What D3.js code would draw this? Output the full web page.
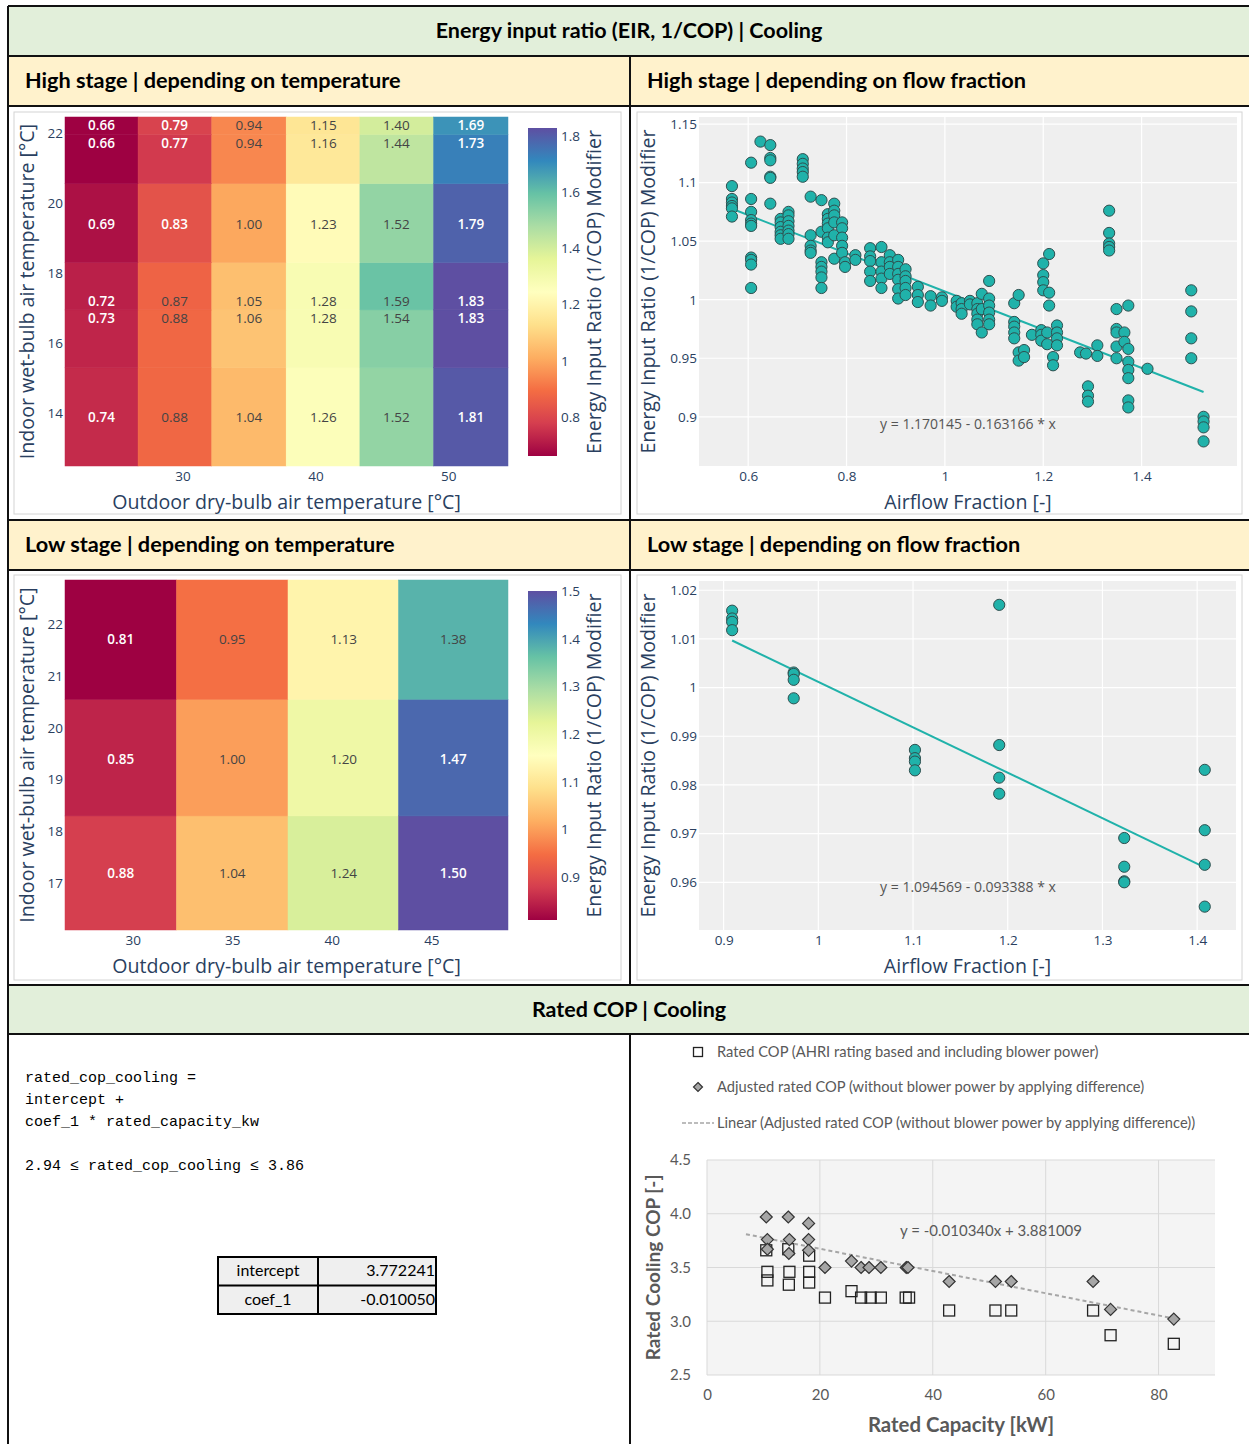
<!DOCTYPE html>
<html>
<head>
<meta charset="utf-8">
<script src="https://cdn.jsdelivr.net/npm/d3@7"></script>
<style>
  body { margin: 0; background: #fff; }
  svg { display: block; }
</style>
</head>
<body>
<svg id="chart" width="1249" height="1444"></svg>
<script>
// ---- data ---------------------------------------------------------------

// High stage: EIR modifier vs outdoor dry-bulb (x) and indoor wet-bulb (y)
var hiTempOdb = [23.9, 29.4, 35.0, 40.6, 46.1, 51.7];
var hiTempIwb = [13.9, 16.7, 17.2, 19.4, 21.7, 22.2];
var hiTempEir = [
  [0.74, 0.88, 1.04, 1.26, 1.52, 1.81],
  [0.73, 0.88, 1.06, 1.28, 1.54, 1.83],
  [0.72, 0.87, 1.05, 1.28, 1.59, 1.83],
  [0.69, 0.83, 1.00, 1.23, 1.52, 1.79],
  [0.66, 0.77, 0.94, 1.16, 1.44, 1.73],
  [0.66, 0.79, 0.94, 1.15, 1.40, 1.69]
];
var hiTempXTicks = [30, 40, 50];
var hiTempYTicks = [14, 16, 18, 20, 22];
var hiTempBarTicks = [0.8, 1, 1.2, 1.4, 1.6, 1.8];

// Low stage: same thing, fewer test points
var loTempOdb = [29.4, 35.0, 40.6, 46.1];
var loTempIwb = [17.2, 19.4, 21.7];
var loTempEir = [
  [0.88, 1.04, 1.24, 1.50],
  [0.85, 1.00, 1.20, 1.47],
  [0.81, 0.95, 1.13, 1.38]
];
var loTempXTicks = [30, 35, 40, 45];
var loTempYTicks = [17, 18, 19, 20, 21, 22];
var loTempBarTicks = [0.9, 1, 1.1, 1.2, 1.3, 1.4, 1.5];

// High stage: EIR modifier vs airflow fraction, [flow, [eir...]]
var hiFlow = [
  [0.567, [1.097, 1.086, 1.083, 1.080, 1.078, 1.071]],
  [0.606, [1.117, 1.086, 1.075, 1.068, 1.065, 1.063, 1.036, 1.034, 1.030, 1.010]],
  [0.625, [1.135]],
  [0.645, [1.132, 1.121, 1.119, 1.105, 1.104, 1.082]],
  [0.666, [1.069, 1.066, 1.062, 1.058, 1.055, 1.052]],
  [0.682, [1.075, 1.072, 1.067, 1.063, 1.059, 1.056, 1.052]],
  [0.711, [1.120, 1.116, 1.112, 1.109, 1.105]],
  [0.727, [1.088, 1.055, 1.046, 1.042, 1.040]],
  [0.749, [1.085, 1.058, 1.032, 1.028, 1.024, 1.019, 1.010]],
  [0.762, [1.073, 1.069, 1.065, 1.061, 1.053, 1.049]],
  [0.775, [1.082, 1.076, 1.072, 1.066, 1.055, 1.035]],
  [0.791, [1.066, 1.061, 1.053, 1.046, 1.040]],
  [0.797, [1.032, 1.028]],
  [0.818, [1.038, 1.034]],
  [0.848, [1.044, 1.037, 1.033, 1.024, 1.016]],
  [0.871, [1.045, 1.032, 1.024, 1.018, 1.010]],
  [0.888, [1.038, 1.032, 1.028, 1.022]],
  [0.905, [1.034, 1.028, 1.022, 1.017, 1.009, 1.001]],
  [0.920, [1.026, 1.020, 1.016, 1.010, 1.004]],
  [0.945, [1.011, 1.004, 0.998]],
  [0.971, [1.003, 0.995]],
  [0.994, [1.002, 0.999]],
  [1.024, [0.999, 0.994]],
  [1.034, [0.997, 0.992, 0.988]],
  [1.051, [0.999, 0.996]],
  [1.066, [0.997, 0.992, 0.988, 0.983, 0.979]],
  [1.075, [1.005, 0.992, 0.972]],
  [1.090, [1.016, 1.001, 0.995, 0.989, 0.983, 0.979]],
  [1.141, [0.997, 0.981, 0.977, 0.972, 0.967]],
  [1.150, [1.004, 0.955, 0.948]],
  [1.161, [0.957, 0.951]],
  [1.177, [0.970]],
  [1.196, [0.974, 0.970, 0.965]],
  [1.200, [1.031, 1.021, 1.015, 1.008]],
  [1.208, [0.972, 0.962]],
  [1.212, [1.039, 1.006, 0.995]],
  [1.220, [0.951, 0.944]],
  [1.228, [0.978, 0.972, 0.967, 0.961]],
  [1.275, [0.955]],
  [1.287, [0.954]],
  [1.291, [0.926, 0.918, 0.913]],
  [1.310, [0.961, 0.952]],
  [1.334, [1.076, 1.057, 1.048, 1.045, 1.042]],
  [1.349, [0.992, 0.975, 0.972, 0.960, 0.950]],
  [1.365, [0.972, 0.964]],
  [1.373, [0.995, 0.958, 0.947, 0.940, 0.933, 0.914, 0.908]],
  [1.412, [0.941]],
  [1.501, [1.008, 0.990, 0.967, 0.950]],
  [1.526, [0.900, 0.896, 0.891, 0.879]]
];
var hiFit = [1.170145, -0.163166];   // intercept, slope
var hiFitRange = [0.567, 1.526];
var hiFlowXTicks = [0.6, 0.8, 1, 1.2, 1.4];
var hiFlowYTicks = [0.9, 0.95, 1, 1.05, 1.1, 1.15];

// Low stage: EIR modifier vs airflow fraction
var loFlow = [
  [0.909, [1.0158, 1.0142, 1.0135, 1.0118]],
  [0.974, [1.0031, 1.0028, 1.0016, 0.9978]],
  [1.102, [0.9872, 0.9855, 0.9848, 0.9830]],
  [1.191, [1.0170, 0.9882, 0.9815, 0.9782]],
  [1.323, [0.9691, 0.9632, 0.9602, 0.9600]],
  [1.408, [0.9831, 0.9707, 0.9636, 0.9550]]
];
var loFit = [1.094569, -0.093388];
var loFitRange = [0.909, 1.408];
var loFlowXTicks = [0.9, 1, 1.1, 1.2, 1.3, 1.4];
var loFlowYTicks = [0.96, 0.97, 0.98, 0.99, 1, 1.01, 1.02];

// Rated COP vs rated capacity (kW)
var ratedCap = [10.5, 10.7, 10.7, 14.4, 14.6, 14.5, 18.1, 18.1, 18.1, 20.9, 25.6, 27.3, 29.0, 30.8, 35.2, 35.8, 42.9, 51.1, 53.9, 68.4, 71.5, 82.7];
var ratedCop = [3.66, 3.46, 3.38, 3.67, 3.46, 3.34, 3.61, 3.46, 3.36, 3.22, 3.28, 3.22, 3.22, 3.22, 3.22, 3.22, 3.10, 3.10, 3.10, 3.10, 2.87, 2.79];
var adjCap = [10.5, 10.7, 10.7, 14.4, 14.6, 14.5, 18.0, 18.0, 18.0, 20.9, 25.6, 27.3, 28.7, 30.8, 35.3, 35.6, 42.9, 51.1, 53.9, 68.4, 71.5, 82.7];
var adjCop = [3.97, 3.76, 3.67, 3.97, 3.76, 3.63, 3.91, 3.76, 3.66, 3.50, 3.56, 3.50, 3.50, 3.50, 3.50, 3.50, 3.37, 3.37, 3.37, 3.37, 3.11, 3.02];
var copTrend = [3.881009, -0.010340];
var copTrendRange = [6.9, 82.7];
var copXTicks = [0, 20, 40, 60, 80];
var copYTicks = [2.5, 3.0, 3.5, 4.0, 4.5];

var formulaLines = ['rated_cop_cooling =', 'intercept +', 'coef_1 * rated_capacity_kw', '', '2.94 \u2264 rated_cop_cooling \u2264 3.86'];
var coefNames = ['intercept', 'coef_1'];
var coefValues = ['3.772241', '-0.010050'];

// ---- setup --------------------------------------------------------------

var svg = d3.select('#chart');
var F_PLOT = '"Open Sans", "Noto Sans", sans-serif';
var F_XL = 'Lato, "Liberation Sans", sans-serif';
var F_MONO = '"Liberation Mono", "DejaVu Sans Mono", monospace';
var PLOT_INK = '#2a3f5f';
var XL_INK = '#595959';
var TEAL = '#20b2aa';
var TICK_PX = '13.5px', TITLE_PX = '19.6px';

var spectral = d3.piecewise(d3.interpolateRgb, d3.schemeSpectral[11]);

// ---- table frame --------------------------------------------------------

var frame = svg.append('g');
var bands = [
  {y0: 6, y1: 56, fill: '#e2efda', text: ['Energy input ratio (EIR, 1/COP) | Cooling'], center: true},
  {y0: 56, y1: 106, fill: '#fff2cc', text: ['High stage | depending on temperature', 'High stage | depending on flow fraction']},
  {y0: 520, y1: 570, fill: '#fff2cc', text: ['Low stage | depending on temperature', 'Low stage | depending on flow fraction']},
  {y0: 985, y1: 1034, fill: '#e2efda', text: ['Rated COP | Cooling'], center: true}
];
bands.forEach(function(b) {
  frame.append('rect').attr('x', 8).attr('y', b.y0).attr('width', 1249 - 8).attr('height', b.y1 - b.y0).attr('fill', b.fill);
  if (b.center) {
    frame.append('text').attr('x', 629).attr('y', (b.y0 + b.y1) / 2 + 7)
      .attr('text-anchor', 'middle').attr('font-family', F_XL).attr('font-weight', 700)
      .attr('font-size', '21.5px').attr('fill', '#000').text(b.text[0]);
  } else {
    b.text.forEach(function(t, i) {
      frame.append('text').attr('x', i === 0 ? 25 : 647).attr('y', (b.y0 + b.y1) / 2 + 7)
        .attr('font-family', F_XL).attr('font-weight', 700)
        .attr('font-size', '21.7px').attr('fill', '#000').text(t);
    });
  }
});

// ---- plotly-like heatmap ------------------------------------------------

function edges(v) {
  var e = [v[0] - (v[1] - v[0]) / 2];
  for (var i = 1; i < v.length; i++) e.push((v[i - 1] + v[i]) / 2);
  e.push(v[v.length - 1] + (v[v.length - 1] - v[v.length - 2]) / 2);
  return e;
}

function heatmap(o) {
  var g = svg.append('g');
  var xe = edges(o.x), ye = edges(o.y);
  var x = d3.scaleLinear().domain([xe[0], xe[xe.length - 1]]).range([o.left, o.right]);
  var y = d3.scaleLinear().domain([ye[0], ye[ye.length - 1]]).range([o.bottom, o.top]);
  var flat = d3.merge(o.z);
  var zmin = d3.min(flat), zmax = d3.max(flat);
  var color = d3.scaleSequential(spectral).domain([zmin, zmax]);

  var cells = [];
  o.z.forEach(function(row, j) {
    row.forEach(function(v, i) { cells.push({i: i, j: j, v: v}); });
  });

  g.selectAll('rect.cell').data(cells).enter().append('rect')
    .attr('class', 'cell')
    .attr('x', function(d) { return x(xe[d.i]); })
    .attr('width', function(d) { return x(xe[d.i + 1]) - x(xe[d.i]); })
    .attr('y', function(d) { return y(ye[d.j + 1]); })
    .attr('height', function(d) { return y(ye[d.j]) - y(ye[d.j + 1]); })
    .attr('fill', function(d) { return color(d.v); })
    .attr('stroke', function(d) { return color(d.v); })
    .attr('stroke-width', 0.5);

  function dark(v) {
    var c = d3.rgb(color(v));
    return (0.299 * c.r + 0.587 * c.g + 0.114 * c.b) < 126;
  }

  g.selectAll('text.cell').data(cells).enter().append('text')
    .attr('class', 'cell')
    .attr('x', function(d) { return x(o.x[d.i]); })
    .attr('y', function(d) { return y(o.y[d.j]); })
    .attr('dy', '0.35em')
    .attr('text-anchor', 'middle')
    .attr('font-family', F_PLOT).attr('font-size', '13.5px')
    .attr('fill', function(d) { return dark(d.v) ? '#fff' : '#444'; })
    .attr('font-weight', function(d) { return dark(d.v) ? 600 : 400; })
    .text(function(d) { return d3.format('.2f')(d.v); });

  // axes
  var xa = g.append('g').attr('transform', 'translate(0,' + o.bottom + ')')
    .call(d3.axisBottom(x).tickValues(o.xTicks).tickSize(0).tickPadding(5).tickFormat(d3.format('d')));
  var ya = g.append('g').attr('transform', 'translate(' + o.left + ',0)')
    .call(d3.axisLeft(y).tickValues(o.yTicks).tickSize(0).tickPadding(2).tickFormat(d3.format('d')));
  [xa, ya].forEach(function(a) {
    a.select('.domain').remove();
    a.selectAll('text').attr('font-family', F_PLOT).attr('font-size', TICK_PX).attr('fill', PLOT_INK);
  });

  g.append('text').attr('x', (o.left + o.right) / 2).attr('y', o.bottom + 43)
    .attr('text-anchor', 'middle').attr('font-family', F_PLOT).attr('font-size', TITLE_PX)
    .attr('fill', PLOT_INK).text('Outdoor dry-bulb air temperature [\u00b0C]');
  g.append('text')
    .attr('transform', 'translate(' + (o.left - 31) + ',' + (o.top + o.bottom) / 2 + ') rotate(-90)')
    .attr('text-anchor', 'middle').attr('font-family', F_PLOT).attr('font-size', TITLE_PX)
    .attr('fill', PLOT_INK).text('Indoor wet-bulb air temperature [\u00b0C]');

  // colour bar
  var bar = o.bar;
  var by = d3.scaleLinear().domain([zmin, zmax]).range([bar.bottom, bar.top]);
  var gid = 'grad' + o.id;
  var grad = svg.append('defs').append('linearGradient').attr('id', gid)
    .attr('x1', 0).attr('y1', 1).attr('x2', 0).attr('y2', 0);
  d3.range(0, 1.0001, 0.05).forEach(function(t) {
    grad.append('stop').attr('offset', t).attr('stop-color', spectral(t));
  });
  g.append('rect').attr('x', bar.left).attr('y', bar.top).attr('width', bar.width)
    .attr('height', bar.bottom - bar.top).attr('fill', 'url(#' + gid + ')');
  var ba = g.append('g').attr('transform', 'translate(' + (bar.left + bar.width) + ',0)')
    .call(d3.axisRight(by).tickValues(o.barTicks).tickSize(0).tickPadding(4).tickFormat(function(d) { return String(d); }));
  ba.select('.domain').remove();
  ba.selectAll('text').attr('font-family', F_PLOT).attr('font-size', TICK_PX).attr('fill', PLOT_INK);
  g.append('text')
    .attr('transform', 'translate(' + (bar.left + bar.width + 44) + ',' + (bar.top + bar.bottom) / 2 + ') rotate(-90)')
    .attr('text-anchor', 'middle').attr('font-family', F_PLOT).attr('font-size', TITLE_PX)
    .attr('fill', PLOT_INK).text('Energy Input Ratio (1/COP) Modifier');
}

// ---- plotly-like scatter with fit line ----------------------------------

function scatter(o) {
  var g = svg.append('g');
  var x = d3.scaleLinear().domain(o.xDomain).range([o.left, o.right]);
  var y = d3.scaleLinear().domain(o.yDomain).range([o.bottom, o.top]);

  g.append('rect').attr('x', o.left).attr('y', o.top).attr('width', o.right - o.left)
    .attr('height', o.bottom - o.top).attr('fill', '#efefef');
  g.selectAll('line.gx').data(o.xTicks).enter().append('line')
    .attr('x1', x).attr('x2', x).attr('y1', o.top).attr('y2', o.bottom)
    .attr('stroke', '#fff').attr('stroke-width', 1.2);
  g.selectAll('line.gy').data(o.yTicks).enter().append('line')
    .attr('y1', y).attr('y2', y).attr('x1', o.left).attr('x2', o.right)
    .attr('stroke', '#fff').attr('stroke-width', 1.2);

  var pts = [];
  o.data.forEach(function(grp) {
    grp[1].forEach(function(v) { pts.push([grp[0], v]); });
  });

  var fx = o.fitRange;
  g.append('line')
    .attr('x1', x(fx[0])).attr('y1', y(o.fit[0] + o.fit[1] * fx[0]))
    .attr('x2', x(fx[1])).attr('y2', y(o.fit[0] + o.fit[1] * fx[1]))
    .attr('stroke', TEAL).attr('stroke-width', 2);

  g.selectAll('circle').data(pts).enter().append('circle')
    .attr('cx', function(d) { return x(d[0]); })
    .attr('cy', function(d) { return y(d[1]); })
    .attr('r', 5.6)
    .attr('fill', TEAL).attr('stroke', '#2f4f4f').attr('stroke-width', 1);

  g.append('text').attr('x', o.label[0]).attr('y', o.label[1]).attr('dy', '0.35em')
    .attr('text-anchor', 'middle').attr('font-family', F_PLOT).attr('font-size', '14px')
    .attr('fill', '#555').text(o.labelText);

  var xa = g.append('g').attr('transform', 'translate(0,' + o.bottom + ')')
    .call(d3.axisBottom(x).tickValues(o.xTicks).tickSize(0).tickPadding(5).tickFormat(function(d) { return String(d); }));
  var ya = g.append('g').attr('transform', 'translate(' + o.left + ',0)')
    .call(d3.axisLeft(y).tickValues(o.yTicks).tickSize(0).tickPadding(2).tickFormat(function(d) { return String(d); }));
  [xa, ya].forEach(function(a) {
    a.select('.domain').remove();
    a.selectAll('text').attr('font-family', F_PLOT).attr('font-size', TICK_PX).attr('fill', PLOT_INK);
  });

  g.append('text').attr('x', (o.left + o.right) / 2).attr('y', o.bottom + 43)
    .attr('text-anchor', 'middle').attr('font-family', F_PLOT).attr('font-size', TITLE_PX)
    .attr('fill', PLOT_INK).text('Airflow Fraction [-]');
  g.append('text')
    .attr('transform', 'translate(' + (o.left - 44) + ',' + (o.top + o.bottom) / 2 + ') rotate(-90)')
    .attr('text-anchor', 'middle').attr('font-family', F_PLOT).attr('font-size', TITLE_PX)
    .attr('fill', PLOT_INK).text('Energy Input Ratio (1/COP) Modifier');
}

// light borders of the embedded figures
[[14, 112, 607, 402], [637, 112, 605, 402], [14, 575, 607, 405], [637, 575, 605, 405]].forEach(function(r) {
  svg.append('rect').attr('x', r[0]).attr('y', r[1]).attr('width', r[2]).attr('height', r[3])
    .attr('fill', 'none').attr('stroke', '#d4d4d4').attr('stroke-width', 1);
});

heatmap({
  id: 'hi', x: hiTempOdb, y: hiTempIwb, z: hiTempEir,
  left: 65, right: 508, top: 117, bottom: 466,
  xTicks: hiTempXTicks, yTicks: hiTempYTicks, barTicks: hiTempBarTicks,
  bar: {left: 528, width: 29, top: 128, bottom: 456}
});

heatmap({
  id: 'lo', x: loTempOdb, y: loTempIwb, z: loTempEir,
  left: 65, right: 508, top: 580, bottom: 930,
  xTicks: loTempXTicks, yTicks: loTempYTicks, barTicks: loTempBarTicks,
  bar: {left: 528, width: 29, top: 591, bottom: 920}
});

scatter({
  data: hiFlow, fit: hiFit, fitRange: hiFitRange,
  xDomain: [0.5, 1.594], yDomain: [0.858, 1.156],
  left: 699, right: 1237, top: 117, bottom: 466,
  xTicks: hiFlowXTicks, yTicks: hiFlowYTicks,
  label: [968, 424], labelText: 'y = 1.170145 - 0.163166 * x'
});

scatter({
  data: loFlow, fit: loFit, fitRange: loFitRange,
  xDomain: [0.874, 1.441], yDomain: [0.9502, 1.0219],
  left: 699, right: 1236, top: 581, bottom: 930,
  xTicks: loFlowXTicks, yTicks: loFlowYTicks,
  label: [968, 887], labelText: 'y = 1.094569 - 0.093388 * x'
});

// ---- rated COP: formula text and coefficient table ----------------------

var ft = svg.append('g');
formulaLines.forEach(function(t, i) {
  ft.append('text').attr('x', 25).attr('y', 1082 + i * 22)
    .attr('font-family', F_MONO).attr('font-size', '15px').attr('fill', '#000')
    .attr('xml:space', 'preserve').text(t);
});

var tb = svg.append('g');
var tbX = [218, 318, 436], tbY = 1257, tbH = 28.5;
coefNames.forEach(function(n, i) {
  var y0 = tbY + i * tbH;
  tb.append('rect').attr('x', tbX[0]).attr('y', y0).attr('width', tbX[2] - tbX[0]).attr('height', tbH)
    .attr('fill', '#efefef');
  tb.append('text').attr('x', (tbX[0] + tbX[1]) / 2).attr('y', y0 + tbH / 2 + 5)
    .attr('text-anchor', 'middle').attr('font-family', F_XL).attr('font-size', '16px').attr('fill', '#000').text(n);
  tb.append('text').attr('x', tbX[2] - 1).attr('y', y0 + tbH / 2 + 5)
    .attr('text-anchor', 'end').attr('font-family', F_XL).attr('font-size', '16px').attr('fill', '#000').text(coefValues[i]);
});
tb.append('rect').attr('x', tbX[0]).attr('y', tbY).attr('width', tbX[2] - tbX[0]).attr('height', tbH * 2)
  .attr('fill', 'none').attr('stroke', '#000').attr('stroke-width', 2);
tb.append('line').attr('x1', tbX[1]).attr('x2', tbX[1]).attr('y1', tbY).attr('y2', tbY + tbH * 2)
  .attr('stroke', '#000').attr('stroke-width', 2);
tb.append('line').attr('x1', tbX[0]).attr('x2', tbX[2]).attr('y1', tbY + tbH).attr('y2', tbY + tbH)
  .attr('stroke', '#000').attr('stroke-width', 2);

// ---- rated COP: excel-like scatter --------------------------------------

var xl = svg.append('g');
var cx = d3.scaleLinear().domain([0, 90]).range([707, 1215]);
var cy = d3.scaleLinear().domain([2.5, 4.5]).range([1375, 1160]);

xl.append('rect').attr('x', cx(0)).attr('y', cy(4.5)).attr('width', cx(90) - cx(0))
  .attr('height', cy(2.5) - cy(4.5)).attr('fill', '#f4f4f4');
xl.selectAll('line.gx').data(copXTicks).enter().append('line')
  .attr('x1', cx).attr('x2', cx).attr('y1', cy(4.5)).attr('y2', cy(2.5))
  .attr('stroke', '#d9d9d9').attr('stroke-width', 1);
xl.selectAll('line.gy').data(copYTicks).enter().append('line')
  .attr('y1', cy).attr('y2', cy).attr('x1', cx(0)).attr('x2', cx(90))
  .attr('stroke', '#d9d9d9').attr('stroke-width', 1);

var cxa = xl.append('g').attr('transform', 'translate(0,' + cy(2.5) + ')')
  .call(d3.axisBottom(cx).tickValues(copXTicks).tickSize(0).tickPadding(14).tickFormat(d3.format('d')));
var cya = xl.append('g').attr('transform', 'translate(' + cx(0) + ',0)')
  .call(d3.axisLeft(cy).tickValues(copYTicks).tickSize(0).tickPadding(16).tickFormat(d3.format('.1f')));
[cxa, cya].forEach(function(a) {
  a.select('.domain').remove();
  a.selectAll('text').attr('font-family', F_XL).attr('font-size', '15px').attr('fill', XL_INK);
});

var sq = 11, dm = 6;
var diamond = function(s) { return 'M0,' + (-s) + 'L' + s + ',0L0,' + s + 'L' + (-s) + ',0Z'; };

xl.selectAll('rect.rated').data(ratedCap).enter().append('rect')
  .attr('class', 'rated')
  .attr('x', function(d) { return cx(d) - sq / 2; })
  .attr('y', function(d, i) { return cy(ratedCop[i]) - sq / 2; })
  .attr('width', sq).attr('height', sq)
  .attr('fill', 'none').attr('stroke', '#222').attr('stroke-width', 1.3);

xl.append('line')
  .attr('x1', cx(copTrendRange[0])).attr('y1', cy(copTrend[0] + copTrend[1] * copTrendRange[0]))
  .attr('x2', cx(copTrendRange[1])).attr('y2', cy(copTrend[0] + copTrend[1] * copTrendRange[1]))
  .attr('stroke', '#a6a6a6').attr('stroke-width', 2).attr('stroke-dasharray', '4,3');

xl.selectAll('path.adj').data(adjCap).enter().append('path')
  .attr('class', 'adj')
  .attr('transform', function(d, i) { return 'translate(' + cx(d) + ',' + cy(adjCop[i]) + ')'; })
  .attr('d', diamond(dm))
  .attr('fill', '#a6a6a6').attr('stroke', '#333').attr('stroke-width', 1.2);

xl.append('text').attr('x', 991).attr('y', 1236).attr('text-anchor', 'middle')
  .attr('font-family', F_XL).attr('font-size', '15px').attr('fill', XL_INK)
  .text('y = -0.010340x + 3.881009');

xl.append('text').attr('x', (cx(0) + cx(90)) / 2).attr('y', 1432).attr('text-anchor', 'middle')
  .attr('font-family', F_XL).attr('font-weight', 700).attr('font-size', '20.4px').attr('fill', XL_INK)
  .text('Rated Capacity [kW]');
xl.append('text')
  .attr('transform', 'translate(660,' + (cy(2.5) + cy(4.5)) / 2 + ') rotate(-90)')
  .attr('text-anchor', 'middle').attr('font-family', F_XL).attr('font-weight', 700)
  .attr('font-size', '19px').attr('fill', XL_INK).text('Rated Cooling COP [-]');

// legend
var lg = xl.append('g');
lg.append('rect').attr('x', 698 - 4.5).attr('y', 1052 - 4.5).attr('width', 9).attr('height', 9)
  .attr('fill', 'none').attr('stroke', '#222').attr('stroke-width', 1.3);
lg.append('path').attr('transform', 'translate(698,1087)').attr('d', diamond(4.5))
  .attr('fill', '#a6a6a6').attr('stroke', '#333').attr('stroke-width', 1.2);
lg.append('line').attr('x1', 682).attr('x2', 714).attr('y1', 1123).attr('y2', 1123)
  .attr('stroke', '#a6a6a6').attr('stroke-width', 1.5).attr('stroke-dasharray', '4,2');
[['Rated COP (AHRI rating based and including blower power)', 1057],
 ['Adjusted rated COP (without blower power by applying difference)', 1092],
 ['Linear (Adjusted rated COP (without blower power by applying difference))', 1128]].forEach(function(l) {
  lg.append('text').attr('x', 717).attr('y', l[1]).attr('font-family', F_XL).attr('font-size', '14.7px')
    .attr('fill', XL_INK).text(l[0]);
});

// ---- grid lines of the table --------------------------------------------

var gl = svg.append('g').attr('stroke', '#111').attr('stroke-width', 2);
[6, 56, 106, 520, 570, 985, 1034].forEach(function(yy) {
  gl.append('line').attr('x1', 8).attr('x2', 1249).attr('y1', yy).attr('y2', yy);
});
gl.append('line').attr('x1', 8).attr('x2', 8).attr('y1', 6).attr('y2', 1444);
[[56, 985], [1034, 1444]].forEach(function(s) {
  gl.append('line').attr('x1', 630).attr('x2', 630).attr('y1', s[0]).attr('y2', s[1]);
});
</script>
</body>
</html>
